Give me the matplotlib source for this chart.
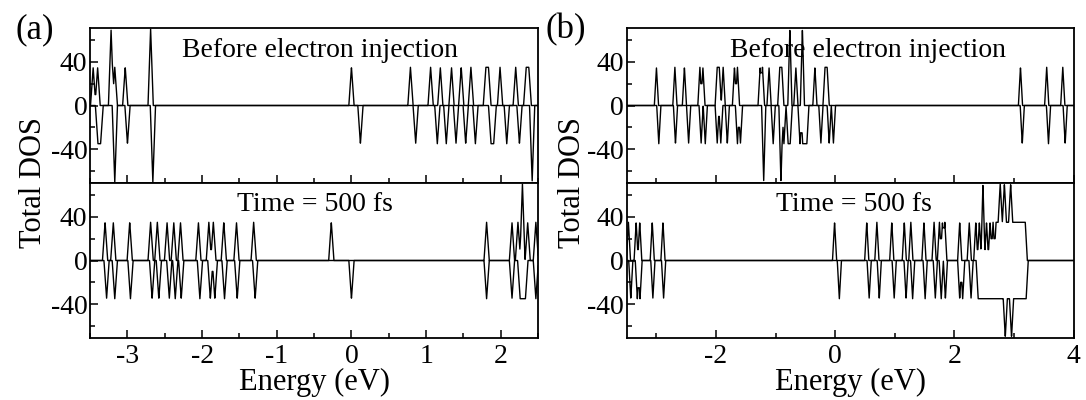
import numpy as np
import matplotlib
matplotlib.use('Agg')
import matplotlib.pyplot as plt
from matplotlib.ticker import MultipleLocator

plt.rcParams['font.family'] = ['Liberation Serif', 'DejaVu Serif']
plt.rcParams['axes.unicode_minus'] = False

# peak positions (eV) and heights; spin up > 0, spin down < 0
# panel (a), before electron injection
a_top_up_E = [-3.46, -3.40, -3.22, -3.17, -3.03, -2.69, 0.0, 0.79, 1.06, 1.19, 1.34, 1.47,
              1.60, 1.80, 1.835, 1.99, 2.20, 2.34, 2.375]
a_top_up_h = [35, 35, 70, 35, 35, 70, 35, 35, 35, 35, 35, 35, 35, 35, 35, 35, 35, 35, 35]
a_top_dn_E = [-3.395, -3.36, -3.17, -3.00, -2.66, 0.12, 0.86, 1.15, 1.27, 1.40, 1.53, 1.66,
              1.87, 1.905, 2.08, 2.25, 2.42]
a_top_dn_h = [35, 35, 70, 35, 70, 35, 35, 35, 35, 35, 35, 35, 35, 35, 35, 35, 70]

# panel (a), time = 500 fs
a_bot_up_E = [-3.30, -3.19, -2.97, -2.69, -2.60, -2.47, -2.38, -2.29, -2.05, -1.91, -1.85,
              -1.71, -1.54, -1.31, -0.27, 1.81, 2.15, 2.23, 2.29, 2.36, 2.47]
a_bot_up_h = [35, 35, 35, 35, 35, 35, 35, 35, 35, 35, 35, 35, 35, 35, 35, 35, 35, 35, 70, 35, 35]
a_bot_dn_E = [-3.28, -3.17, -2.96, -2.67, -2.58, -2.44, -2.36, -2.28, -2.03, -1.89, -1.83,
              -1.70, -1.53, -1.29, 0.0, 1.81, 2.15, 2.26, 2.295, 2.33, 2.47]
a_bot_dn_h = [35] * 21

# panel (b), before electron injection
b_top_up_E = [-3.00, -2.69, -2.53, -2.27, -2.22, -1.98, -1.945, -1.88, -1.69, -1.64, -1.26,
              -1.22, -1.11, -0.93, -0.895, -0.76, -0.66, -0.55, -0.34, -0.17, -0.135,
              3.11, 3.55, 3.82]
b_top_up_h = [35, 35, 35, 35, 35, 35, 35, 35, 35, 35, 35, 35, 35, 35, 35, 70, 35, 70, 35,
              35, 35, 35, 35, 35]
b_top_dn_E = [-2.96, -2.68, -2.46, -2.25, -2.18, -1.98, -1.92, -1.81, -1.64, -1.59, -1.20,
              -1.04, -0.91, -0.86, -0.79, -0.755, -0.59, -0.545, -0.51, -0.475, -0.24,
              -0.10, -0.03, 3.14, 3.58, 3.86]
b_top_dn_h = [35, 35, 35, 35, 35, 35, 35, 35, 35, 35, 70, 35, 70, 35, 35, 35, 35, 35, 35,
              35, 35, 35, 35, 35, 35, 35]

# panel (b), time = 500 fs
b_bot_up_E = [-3.47, -3.34, -3.28, -3.07, -2.89, -0.01, 0.53, 0.70, 0.95, 1.16, 1.27, 1.49,
              1.66, 1.75, 1.80, 1.84, 2.09, 2.25, 2.36, 2.42, 2.48, 2.54, 2.60, 2.65,
              2.70, 2.735, 2.77, 2.805, 2.84, 2.875, 2.91, 2.945, 2.98, 3.015, 3.05, 3.085,
              3.12, 3.155, 3.19]
b_bot_up_h = [35, 35, 35, 35, 35, 35, 35, 35, 35, 35, 35, 35,
              35, 35, 35, 35, 35, 35, 35, 35, 70, 35, 35, 35,
              35, 35, 70, 35, 70, 35, 35, 70, 35, 35, 35, 35,
              35, 35, 35]
b_bot_dn_E = [-3.43, -3.32, -3.275, -3.06, -2.88, 0.07, 0.57, 0.74, 0.99, 1.19, 1.30, 1.51,
              1.68, 1.78, 1.85, 2.09, 2.14, 2.28, 2.40, 2.435, 2.47, 2.505, 2.54, 2.575,
              2.61, 2.645, 2.68, 2.715, 2.75, 2.785, 2.82, 2.855, 2.89, 2.925, 2.96, 2.995,
              3.03, 3.065, 3.10, 3.135, 3.17, 3.205]
b_bot_dn_h = [35, 35, 35, 35, 35, 35, 35, 35, 35, 35, 35, 35,
              35, 35, 35, 35, 35, 35, 35, 35, 35, 35, 35, 35,
              35, 35, 35, 35, 35, 35, 35, 70, 35, 35, 70, 35,
              35, 35, 35, 35, 35, 35]

a_xlim = (-3.5, 2.5)
b_xlim = (-3.5, 4.0)
a_xticks = [-3, -2, -1, 0, 1, 2]
b_xticks = [-2, 0, 2, 4]
ylim = (-71, 71)
yticks = [-40, 0, 40]
label_top = 'Before electron injection'
label_bot = 'Time = 500 fs'

HALF_WIDTH = 0.035  # broadening of each level (eV)


def dos_curve(xlim, energies, heights, sign):
    grid = np.linspace(xlim[0], xlim[1], 4001)
    y = np.zeros_like(grid)
    for e, h in zip(energies, heights):
        y += h * np.clip(1 - np.abs(grid - e) / HALF_WIDTH, 0, None)
    return grid, sign * y


def style(ax, xlim, xticks, xminor, show_x):
    ax.set_xlim(*xlim)
    ax.set_ylim(*ylim)
    ax.set_xticks(xticks)
    ax.xaxis.set_minor_locator(MultipleLocator(xminor))
    ax.set_yticks(yticks)
    ax.yaxis.set_minor_locator(MultipleLocator(20))
    ax.tick_params(which='both', direction='in', top=False, right=False, labelsize=20, width=1.1)
    ax.tick_params(which='major', length=6)
    ax.tick_params(which='minor', length=3.5)
    ax.tick_params(axis='y', pad=2)
    ax.tick_params(axis='x', pad=4)
    for s in ax.spines.values():
        s.set_linewidth(1.3)
    if not show_x:
        ax.tick_params(axis='x', labelbottom=False)


def draw(ax, xlim, upE, uph, dnE, dnh):
    x, y = dos_curve(xlim, upE, uph, 1)
    ax.plot(x, y, color='black', lw=1.0)
    x, y = dos_curve(xlim, dnE, dnh, -1)
    ax.plot(x, y, color='black', lw=1.0)


fig = plt.figure(figsize=(10.86, 4.0), dpi=100)

panels = [
    (0.083, 0.4125, a_xlim, a_xticks, 0.5,
     (a_top_up_E, a_top_up_h, a_top_dn_E, a_top_dn_h),
     (a_bot_up_E, a_bot_up_h, a_bot_dn_E, a_bot_dn_h), '(a)', 0.014, 0.031, 0.2045, 0.327),
    (0.577, 0.4115, b_xlim, b_xticks, 1.0,
     (b_top_up_E, b_top_up_h, b_top_dn_E, b_top_dn_h),
     (b_bot_up_E, b_bot_up_h, b_bot_dn_E, b_bot_dn_h), '(b)', 0.502, 0.527, 0.231, 0.334),
]

for left, width, xlim, xticks, xminor, top_d, bot_d, tag, tag_x, ylab_x, tx_top, tx_bot in panels:
    ax_top = fig.add_axes([left, 0.5425, width, 0.3875])
    ax_bot = fig.add_axes([left, 0.155, width, 0.3875])
    draw(ax_top, xlim, *top_d)
    draw(ax_bot, xlim, *bot_d)
    style(ax_top, xlim, xticks, xminor, False)
    style(ax_bot, xlim, xticks, xminor, True)
    ax_top.text(tx_top, 0.815, label_top, transform=ax_top.transAxes, fontsize=20,
                ha='left', va='baseline')
    ax_bot.text(tx_bot, 0.822, label_bot, transform=ax_bot.transAxes, fontsize=20,
                ha='left', va='baseline')
    fig.text(left + width / 2, 0.008, 'Energy (eV)', fontsize=22, ha='center', va='bottom')
    fig.text(ylab_x, 0.5425, 'Total DOS', rotation=90, fontsize=22, ha='center', va='center')
    fig.text(tag_x, 0.925, tag, fontsize=25, ha='left', va='center')

fig.savefig('out.png', dpi=100)
